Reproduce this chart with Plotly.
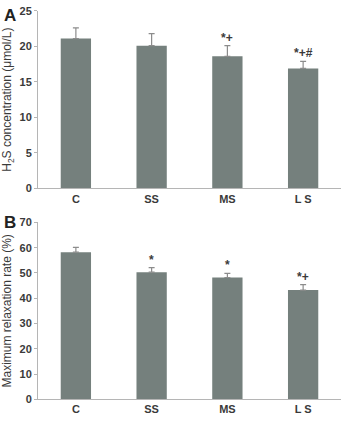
import plotly.graph_objects as go

categories = ["C", "SS", "MS", "L S"]
h2s_values = [21.1, 20.1, 18.6, 16.9]
h2s_errors = [1.5, 1.7, 1.5, 1.0]
h2s_marks = ["", "", "*+", "*+#"]
relax_values = [58.2, 50.3, 48.2, 43.2]
relax_errors = [1.9, 1.8, 1.6, 2.2]
relax_marks = ["", "*", "*", "*+"]

bar_color = "#75807d"
axis_color = "#b5b5b5"
text_color = "#3a3a3a"
font_family = "Liberation Sans, Arial, sans-serif"

fig = go.Figure()
fig.add_trace(go.Bar(x=categories, y=h2s_values, width=0.4, marker=dict(color=bar_color, line=dict(width=0)),
                     error_y=dict(type="data", symmetric=False, array=h2s_errors, arrayminus=[0]*4,
                                  color="#8c8c8c", thickness=1.2, width=3),
                     xaxis="x", yaxis="y", showlegend=False))
fig.add_trace(go.Bar(x=categories, y=relax_values, width=0.4, marker=dict(color=bar_color, line=dict(width=0)),
                     error_y=dict(type="data", symmetric=False, array=relax_errors, arrayminus=[0]*4,
                                  color="#8c8c8c", thickness=1.2, width=3),
                     xaxis="x2", yaxis="y2", showlegend=False))

mark_font = dict(size=12, color=text_color, family=font_family)
annotations = []
for c, v, e, m in zip(categories, h2s_values, h2s_errors, h2s_marks):
    if m:
        annotations.append(dict(x=c, y=v + e, xref="x", yref="y", text="<b>" + m + "</b>", showarrow=False,
                                yanchor="bottom", yshift=-1, font=mark_font))
for c, v, e, m in zip(categories, relax_values, relax_errors, relax_marks):
    if m:
        annotations.append(dict(x=c, y=v + e, xref="x2", yref="y2", text="<b>" + m + "</b>", showarrow=False,
                                yanchor="bottom", yshift=-1, font=mark_font))
annotations.append(dict(x=2 / 344, y=1 - 10 / 425, xref="paper", yref="paper", text="<b>A</b>", showarrow=False,
                        xanchor="left", yanchor="middle", font=dict(size=17, color="#222", family=font_family)))
annotations.append(dict(x=2 / 344, y=1 - 223 / 425, xref="paper", yref="paper", text="<b>B</b>", showarrow=False,
                        xanchor="left", yanchor="middle", font=dict(size=17, color="#222", family=font_family)))

tickfont = dict(size=11, color=text_color, family=font_family, weight="bold")
titlefont = dict(size=12, color=text_color, family=font_family)
xdom = [38 / 344, 341 / 344]
common_x = dict(domain=xdom, showline=True, linecolor=axis_color, linewidth=1, ticks="", tickfont=tickfont,
                showgrid=False, zeroline=False)
common_y = dict(showline=True, linecolor=axis_color, linewidth=1, ticks="outside", ticklen=3, tickcolor=axis_color,
                tickfont=tickfont, showgrid=False, zeroline=False)

fig.update_layout(
    width=344, height=425, margin=dict(l=0, r=0, t=0, b=0),
    paper_bgcolor="white", plot_bgcolor="white",
    bargap=0.6,
    xaxis=dict(**common_x, anchor="y"),
    yaxis=dict(**common_y, domain=[1 - 187.7 / 425, 1 - 5 / 425], range=[0, 25], dtick=5, anchor="x",
               title=dict(text="H<sub>2</sub>S concentration (μmol/L)", standoff=5, font=titlefont)),
    xaxis2=dict(**common_x, anchor="y2"),
    yaxis2=dict(**common_y, domain=[1 - 404.7 / 425, 1 - 222.7 / 425], range=[0, 70], dtick=10, anchor="x2",
                title=dict(text="Maximum relaxation rate (%)", standoff=5, font=titlefont)),
    annotations=annotations,
)

fig.write_html("out.html")
